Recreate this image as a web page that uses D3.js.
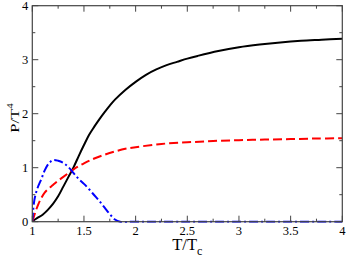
<!DOCTYPE html>
<html lang="en">
<head>
    <meta charset="UTF-8">
    <title>P/T^4 vs T/Tc</title>
    <script src="https://d3js.org/d3.v7.min.js"></script>
    <style>
        body { margin: 0; background: white; }
        svg text { font-family: "Liberation Serif", "Times New Roman", "DejaVu Serif", serif; fill: black; }
        .tick-label { font-size: 12.5px; }
        .axis-title { font-size: 16.5px; }
    </style>
</head>
<body>
    <div id="chart"></div>
    <script>
        // black solid curve
        const blackT = [1.0, 1.05, 1.1, 1.15, 1.2, 1.25, 1.3, 1.35, 1.4, 1.45, 1.5, 1.55, 1.6, 1.65, 1.7, 1.75, 1.8, 1.9, 2.0, 2.1, 2.2, 2.3, 2.4, 2.5, 2.6, 2.8, 3.0, 3.2, 3.4, 3.6, 3.8, 4.0];
        const blackP = [0.01, 0.07, 0.13, 0.22, 0.33, 0.47, 0.65, 0.83, 1.01, 1.22, 1.42, 1.61, 1.76, 1.9, 2.03, 2.15, 2.26, 2.44, 2.59, 2.72, 2.82, 2.9, 2.96, 3.02, 3.07, 3.16, 3.23, 3.28, 3.32, 3.35, 3.37, 3.39];

        // red dashed curve
        const redT = [1.0, 1.03, 1.06, 1.09, 1.12, 1.15, 1.2, 1.25, 1.3, 1.35, 1.4, 1.5, 1.6, 1.7, 1.8, 1.9, 2.0, 2.25, 2.5, 2.75, 3.0, 3.25, 3.5, 3.75, 4.0];
        const redP = [0.0, 0.18, 0.33, 0.45, 0.54, 0.6, 0.68, 0.76, 0.83, 0.9, 0.97, 1.08, 1.17, 1.24, 1.3, 1.35, 1.38, 1.44, 1.47, 1.495, 1.51, 1.52, 1.53, 1.54, 1.545];

        // blue dash-dot curve
        const blueT = [1.0, 1.02, 1.05, 1.09, 1.12, 1.16, 1.2, 1.25, 1.3, 1.35, 1.4, 1.45, 1.5, 1.55, 1.6, 1.65, 1.7, 1.75, 1.8, 1.85, 2.0, 2.5, 3.0, 3.5, 4.0];
        const blueP = [0.0, 0.4, 0.62, 0.8, 0.95, 1.08, 1.14, 1.13, 1.09, 1.01, 0.9, 0.79, 0.7, 0.6, 0.49, 0.38, 0.26, 0.14, 0.04, 0.0, 0.0, 0.0, 0.0, 0.0, 0.0];

        const xTicks = [1, 1.5, 2, 2.5, 3, 3.5, 4];
        const xMinor = [1.25, 1.75, 2.25, 2.75, 3.25, 3.75];
        const yTicks = [0, 1, 2, 3, 4];
        const yMinor = [0.5, 1.5, 2.5, 3.5];

        const W = 346, H = 257;
        const margin = {top: 5.7, right: 3.7, bottom: 35.3, left: 32.3};
        const width = W - margin.left - margin.right;
        const height = H - margin.top - margin.bottom;

        const svg = d3.select("#chart").append("svg")
            .attr("width", W)
            .attr("height", H);

        const g = svg.append("g")
            .attr("transform", `translate(${margin.left},${margin.top})`);

        const x = d3.scaleLinear().domain([1, 4]).range([0, width]);
        const y = d3.scaleLinear().domain([0, 4]).range([height, 0]);

        svg.append("clipPath").attr("id", "clip")
            .append("rect").attr("width", width).attr("height", height + 2).attr("y", -1);

        const line = d3.line()
            .x(d => x(d[0]))
            .y(d => y(d[1]))
            .curve(d3.curveCatmullRom.alpha(0.5));

        const series = [
            {t: blackT, p: blackP, color: "black", dash: null},
            {t: redT, p: redP, color: "#ff0000", dash: "9,4"},
            {t: blueT, p: blueP, color: "#0000ff", dash: "9,3,2,3"}
        ];

        const curves = g.append("g").attr("clip-path", "url(#clip)");
        series.forEach(s => {
            curves.append("path")
                .datum(d3.zip(s.t, s.p))
                .attr("d", line)
                .attr("fill", "none")
                .attr("stroke", s.color)
                .attr("stroke-width", 2)
                .attr("stroke-dasharray", s.dash);
        });

        // frame with inward ticks on all four sides
        const axisColor = "#444";
        const tickLen = (gSel, vals, len, horizontal) => {
            vals.forEach(v => {
                if (horizontal) {
                    gSel.append("line").attr("x1", x(v)).attr("x2", x(v)).attr("y1", height).attr("y2", height - len);
                    gSel.append("line").attr("x1", x(v)).attr("x2", x(v)).attr("y1", 0).attr("y2", len);
                } else {
                    gSel.append("line").attr("x1", 0).attr("x2", len).attr("y1", y(v)).attr("y2", y(v));
                    gSel.append("line").attr("x1", width).attr("x2", width - len).attr("y1", y(v)).attr("y2", y(v));
                }
            });
        };
        const ticks = g.append("g").attr("stroke", axisColor).attr("stroke-width", 1);
        tickLen(ticks, xTicks, 6, true);
        tickLen(ticks, xMinor, 3, true);
        tickLen(ticks, yTicks, 6, false);
        tickLen(ticks, yMinor, 3, false);

        g.append("rect")
            .attr("width", width)
            .attr("height", height)
            .attr("fill", "none")
            .attr("stroke", axisColor)
            .attr("stroke-width", 1.2);

        g.selectAll(".xlab")
            .data(xTicks)
            .enter().append("text")
            .attr("class", "tick-label")
            .attr("x", d => x(d))
            .attr("y", height + 13.3)
            .attr("text-anchor", "middle")
            .text(d => d);

        g.selectAll(".ylab")
            .data(yTicks)
            .enter().append("text")
            .attr("class", "tick-label")
            .attr("x", -4)
            .attr("y", d => y(d))
            .attr("dy", "0.35em")
            .attr("text-anchor", "end")
            .text(d => d);

        // axis titles
        const xt = svg.append("text")
            .attr("class", "axis-title")
            .attr("x", margin.left + width / 2)
            .attr("y", 250)
            .attr("text-anchor", "middle");
        xt.append("tspan").text("T/T");
        xt.append("tspan").attr("font-size", "12px").attr("dy", "4.5").text("c");

        const yt = svg.append("text")
            .attr("class", "axis-title")
            .attr("transform", "translate(19,118) rotate(-90) scale(1,0.8)")
            .attr("text-anchor", "middle");
        yt.append("tspan").text("P/T");
        yt.append("tspan").attr("font-size", "11px").attr("dy", "-7").text("4");
    </script>
</body>
</html>
